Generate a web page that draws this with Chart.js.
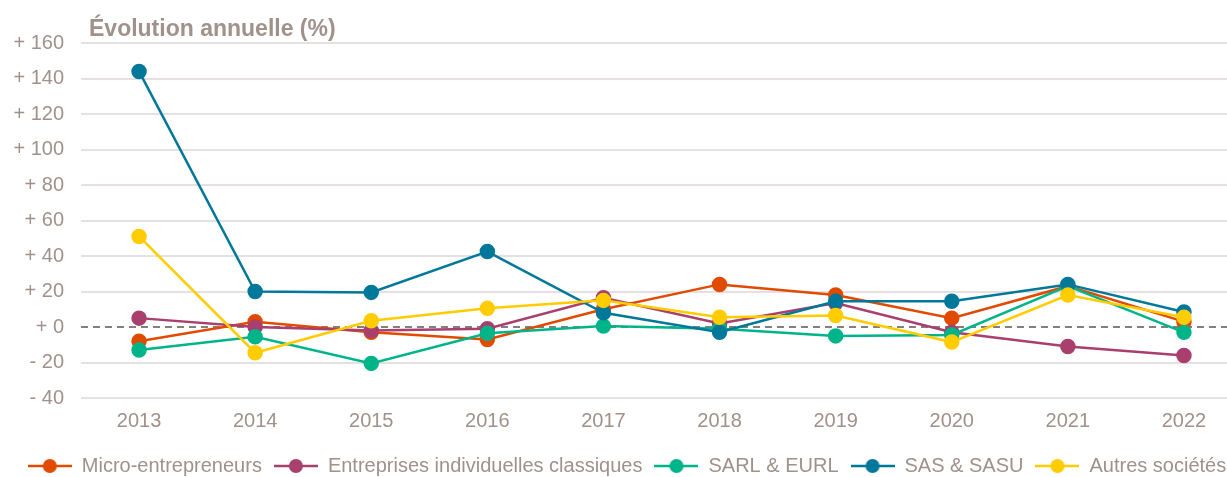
<!DOCTYPE html>
<html lang="fr">
<head>
<meta charset="utf-8">
<script src="https://cdn.jsdelivr.net/npm/chart.js@4.4.1/dist/chart.umd.min.js"></script>
<style>
  html, body { margin: 0; padding: 0; background: #fff; overflow: hidden; }
  #wrap { position: relative; width: 1260px; height: 477px; }
  #title {
    position: absolute; left: 89px; top: 15px;
    font: bold 23px "Liberation Sans", Arial, sans-serif;
    color: #A0918B;
  }
</style>
</head>
<body>
<div id="wrap">
  <div id="title">Évolution annuelle (%)</div>
  <canvas id="chart" width="1260" height="477"></canvas>
</div>
<script>
const years = ['2013', '2014', '2015', '2016', '2017', '2018', '2019', '2020', '2021', '2022'];

const microEntrepreneurs = [-8, 3, -3, -7, 10, 24, 18, 5, 23, 3];
const entreprisesIndividuelles = [5, 0, -2, -1, 16.5, 2, 13.5, -3, -11, -16];
const sarlEurl = [-13, -5.5, -20.5, -3.5, 0.5, -1, -5, -4.5, 23, -3];
const sasSasu = [144, 20, 19.5, 42.5, 8, -3, 14.5, 14.5, 24, 8.5];
const autresSocietes = [51, -14.5, 3.5, 10.5, 15, 5.5, 6.5, -8.5, 18, 5.5];

const seriesNames = ['Micro-entrepreneurs', 'Entreprises individuelles classiques', 'SARL & EURL', 'SAS & SASU', 'Autres sociétés'];
const seriesColors = ['#E04B00', '#A83F6D', '#00B48A', '#00789A', '#FFCC00'];
const seriesValues = [microEntrepreneurs, entreprisesIndividuelles, sarlEurl, sasSasu, autresSocietes];

const textColor = '#A0918B';
const font = '"Liberation Sans", Arial, sans-serif';

// little line + dot icon for the legend
function legendIcon(color) {
    const c = document.createElement('canvas');
    c.width = 44;
    c.height = 16;
    const g = c.getContext('2d');
    g.strokeStyle = color;
    g.lineWidth = 2.5;
    g.beginPath();
    g.moveTo(0, 8);
    g.lineTo(44, 8);
    g.stroke();
    g.fillStyle = color;
    g.beginPath();
    g.arc(22, 8, 7, 0, Math.PI * 2);
    g.fill();
    return c;
}

const datasets = seriesNames.map((name, i) => ({
    label: name,
    data: seriesValues[i],
    borderColor: seriesColors[i],
    backgroundColor: seriesColors[i],
    pointBackgroundColor: seriesColors[i],
    pointBorderColor: seriesColors[i],
    borderWidth: 2.5,
    pointRadius: 6.5,
    pointHoverRadius: 6.5,
    pointStyle: 'circle',
    tension: 0,
    order: seriesNames.length - i
}));

const icons = seriesColors.map(legendIcon);

// dashed zero line
const zeroLine = {
    id: 'zeroLine',
    beforeDatasetsDraw(chart) {
        const y = chart.scales.y.getPixelForValue(0);
        const ctx = chart.ctx;
        ctx.save();
        ctx.strokeStyle = '#5E5456';
        ctx.lineWidth = 1.5;
        ctx.setLineDash([7, 5]);
        ctx.beginPath();
        ctx.moveTo(chart.chartArea.left, y);
        ctx.lineTo(chart.chartArea.right, y);
        ctx.stroke();
        ctx.restore();
    }
};

new Chart(document.getElementById('chart'), {
    type: 'line',
    data: { labels: years, datasets: datasets },
    plugins: [zeroLine],
    options: {
        responsive: false,
        animation: false,
        layout: { padding: { left: 12, right: 18, top: 43, bottom: -9 } },
        plugins: {
            tooltip: { enabled: false },
            legend: {
                position: 'bottom',
                labels: {
                    usePointStyle: true,
                    pointStyleWidth: 44,
                    padding: 12,
                    color: textColor,
                    font: { family: font, size: 20 },
                    sort: (a, b) => a.datasetIndex - b.datasetIndex,
                    generateLabels(chart) {
                        return chart.data.datasets.map((ds, i) => ({
                            text: ds.label,
                            pointStyle: icons[i],
                            fillStyle: ds.borderColor,
                            strokeStyle: ds.borderColor,
                            lineWidth: 0,
                            datasetIndex: i,
                            fontColor: textColor
                        }));
                    }
                }
            }
        },
        scales: {
            x: {
                offset: true,
                grid: { display: false },
                border: { display: false },
                afterFit(scale) { scale.height += 8; },
                ticks: { color: textColor, font: { family: font, size: 20 }, padding: 3 }
            },
            y: {
                min: -40,
                max: 160,
                border: { display: false },
                afterFit(scale) { scale.width = 69; },
                grid: {
                    drawTicks: false,
                    lineWidth: 2,
                    color: ctx => ctx.tick && ctx.tick.value === 0 ? 'rgba(0,0,0,0)' : '#E6E1E1'
                },
                ticks: {
                    stepSize: 20,
                    padding: 17,
                    color: textColor,
                    font: { family: font, size: 20 },
                    callback: v => (v < 0 ? '- ' + Math.abs(v) : '+ ' + v)
                }
            }
        }
    }
});
</script>
</body>
</html>
